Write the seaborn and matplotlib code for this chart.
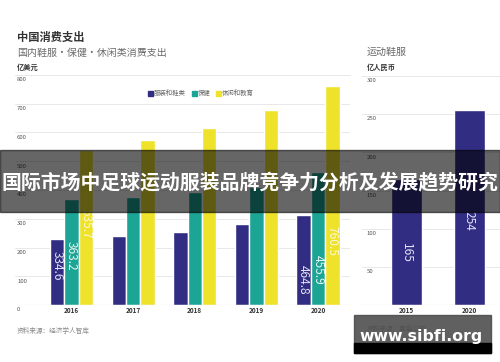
import matplotlib
matplotlib.use("Agg")
import matplotlib.pyplot as plt
import seaborn as sns
import pandas as pd
from matplotlib.patches import Rectangle

# 中国消费支出（柱高按图读取，标签按图上文字）
years = ['2016', '2017', '2018', '2019', '2020']
categories = ['服装和鞋类', '保健', '休闲和教育']
apparel = [229, 240, 255, 282, 313]
health = [368, 377, 393, 410, 463]
leisure = [540, 574, 616, 678, 763]
bar_text = {'2016': ['334.6', '363.2', '535.7'], '2020': ['464.8', '455.9', '760.5']}
left_ticks = [0, 100, 200, 300, 400, 500, 600, 700, 800]

# 运动鞋服
sport_years = ['2015', '2020']
sport_values = [165, 256]
sport_text = ['165', '254']
right_ticks = [50, 100, 150, 200, 250, 300]

colors = ['#312d82', '#1ca595', '#efe22b']

df = pd.DataFrame({
    'year': years * 3,
    'cat': [categories[0]] * 5 + [categories[1]] * 5 + [categories[2]] * 5,
    'val': apparel + health + leisure,
})
df_sport = pd.DataFrame({'year': sport_years, 'val': sport_values})

sns.set_style('white')
plt.rcParams['font.family'] = ['Noto Sans CJK SC', 'DejaVu Sans']

W, H = 500, 362
fig = plt.figure(figsize=(W / 100, H / 100), dpi=100)

def fx(px):
    return px / W

def fy(py):
    return 1 - py / H

# ---- 左图 ----
ax = fig.add_axes([fx(15), fy(305), fx(350) - fx(15), fy(75) - fy(305)])
sns.barplot(data=df, x='year', y='val', hue='cat', hue_order=categories,
            palette=colors, width=0.7, saturation=1, legend=False, ax=ax,
            zorder=3)
ax.set_xlim(-0.917, 4.52)
ax.set_ylim(0, 800)
ax.set_yticks(left_ticks)
ax.set_yticklabels([])
ax.grid(axis='y', color='#e8e8e8', lw=0.7, zorder=0)
ax.axhline(0, color='#d4d4d4', lw=0.8, zorder=4)
for s in ax.spines.values():
    s.set_visible(False)
ax.set_xlabel('')
ax.set_ylabel('')
ax.tick_params(axis='x', length=0, pad=1.5, labelsize=4.6, labelcolor='#333333')
for t in ax.get_xticklabels():
    t.set_fontweight('bold')
ax.tick_params(axis='y', length=0)
for v in left_ticks:
    ax.text(0.006, v - 8, str(v), transform=ax.get_yaxis_transform(),
            fontsize=4.3, color='#555555', va='top', ha='left')

label_y = {'2016': [136, 170, 282], '2020': [87, 122, 223]}
text_cols = ['#e4e2f6', '#e8f6f2', '#fbf7d8']
for yr, texts in bar_text.items():
    i = years.index(yr)
    for k, cont in enumerate(ax.containers):
        p = cont.patches[i]
        ax.text(p.get_x() + p.get_width() / 2, label_y[yr][k], texts[k],
                rotation=-90, ha='center', va='center', fontsize=8.6,
                color=text_cols[k], zorder=5)

# ---- 右图 ----
ax2 = fig.add_axes([fx(362), fy(305), 1 - fx(362), fy(76) - fy(305)])
sns.barplot(data=df_sport, x='year', y='val', color=colors[0], width=0.49,
            saturation=1, ax=ax2, zorder=3)
ax2.set_xlim(-0.70, 1.49)
ax2.set_ylim(0, 300)
ax2.set_yticks([0] + right_ticks)
ax2.set_yticklabels([])
ax2.grid(axis='y', color='#e8e8e8', lw=0.7, zorder=0)
ax2.axhline(0, color='#d4d4d4', lw=0.8, zorder=4)
for s in ax2.spines.values():
    s.set_visible(False)
ax2.set_xlabel('')
ax2.set_ylabel('')
ax2.tick_params(axis='x', length=0, pad=1.5, labelsize=4.6, labelcolor='#333333')
for t in ax2.get_xticklabels():
    t.set_fontweight('bold')
ax2.tick_params(axis='y', length=0)
for v in right_ticks:
    ax2.text(0.035, v - 3, str(v), transform=ax2.get_yaxis_transform(),
             fontsize=4.3, color='#555555', va='top', ha='left')
sport_label_y = [68, 110]
for p, txt, yv in zip(ax2.patches, sport_text, sport_label_y):
    ax2.text(p.get_x() + p.get_width() / 2, yv, txt, rotation=-90,
             ha='center', va='center', fontsize=8.6, color='#e4e2f6', zorder=5)

# ---- 标题与文字 ----
fig.text(fx(17), fy(37), '中国消费支出', fontsize=8.1, fontweight='bold',
         color='#333333', va='center')
fig.text(fx(17), fy(53), '国内鞋服・保健・休闲类消费支出', fontsize=7.2,
         color='#6a6a6a', va='center')
fig.text(fx(17), fy(67), '亿美元', fontsize=5.2, fontweight='bold',
         color='#333333', va='center')
fig.text(fx(367), fy(52), '运动鞋服', fontsize=7.2, color='#6a6a6a', va='center')
fig.text(fx(367), fy(67), '亿人民币', fontsize=5.2, fontweight='bold',
         color='#333333', va='center')
fig.add_artist(plt.Line2D([fx(15), fx(350)], [fy(75), fy(75)], color='#e8e8e8', lw=0.7))

# 图例
leg_x = [150, 194, 218]
for c, name, x0 in zip(colors, categories, leg_x):
    fig.patches.append(Rectangle((fx(x0 - 2.5), fy(95.5)), fx(5), 5 / H,
                                 transform=fig.transFigure, color=c, zorder=2))
    fig.text(fx(x0 + 4), fy(93), name, fontsize=4.6, color='#666666', va='center')

fig.text(fx(17), fy(331), '资料来源：经济学人智库', fontsize=4.8, color='#8a8a8a', va='center')
# 右侧来源被水印盖住，只隐约可见
fig.text(fx(367), fy(329), '资料来源：惠盛公司', fontsize=4.8, color='#8a8a8a', va='center')

# 横幅
fig.patches.append(Rectangle((0, fy(212)), 1, 62 / H, transform=fig.transFigure,
                             color='black', alpha=0.6, zorder=5))
fig.text(0.5, fy(182), '国际市场中足球运动服装品牌竞争力分析及发展趋势研究',
         fontsize=14.3, fontweight='bold', color='white', ha='center',
         va='center', zorder=6)

# 水印
fig.patches.append(Rectangle((fx(354), fy(353)), fx(137), 38 / H,
                             transform=fig.transFigure, color='#4a4a4a',
                             alpha=0.88, zorder=5))
fig.patches.append(Rectangle((fx(354), fy(353)), fx(137), 10 / H,
                             transform=fig.transFigure, color='black', zorder=5))
fig.text(fx(421), fy(336), 'www.sibfi.org', fontsize=11.3, fontweight='bold',
         color='white', ha='center', va='center', zorder=6, family='DejaVu Sans')

fig.savefig('out.png', dpi=100)
